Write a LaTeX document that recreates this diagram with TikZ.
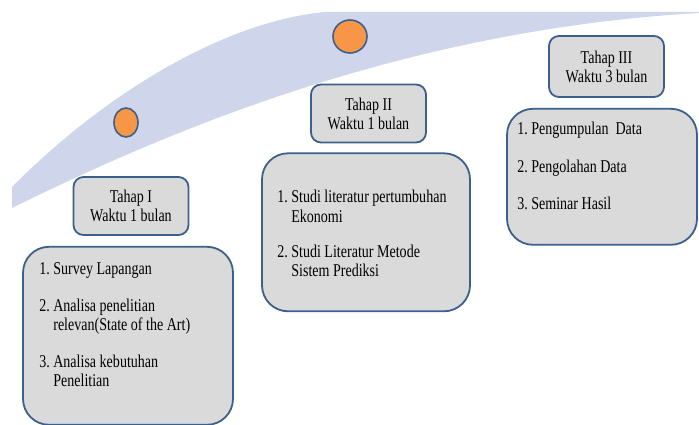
\documentclass[tikz,border=0pt]{standalone}
\usepackage{fontspec}
\setmainfont{Liberation Serif}[FakeStretch=0.78]
\usetikzlibrary{positioning}

\definecolor{bandblue}{RGB}{207,213,234}
\definecolor{boxedge}{RGB}{60,96,140}
\definecolor{boxfill}{RGB}{218,218,218}
\definecolor{dotorange}{RGB}{247,150,70}

\tikzset{
    headbox/.style={draw=boxedge, fill=boxfill, line width=1.8pt, rounded corners=10pt,
        minimum width=115pt, minimum height=58pt, inner sep=0pt, align=center,
        font=\fontsize{18}{19}\selectfont},
    listbox/.style={draw=boxedge, fill=boxfill, line width=1.8pt, rounded corners=26pt},
    listtext/.style={anchor=north west, inner sep=0pt, align=left,
        font=\fontsize{18}{19.5}\selectfont},
    dot/.style={draw=boxedge, fill=dotorange, line width=1.6pt}
}

\begin{document}
\begin{tikzpicture}[x=1pt, y=-1pt]
    \useasboundingbox (0,0) rectangle (699,425);
    % curved band
    \fill[bandblue] (12,187) .. controls (100,98) and (220,22) .. (325,12) -- (699,12)
        -- (699,13) .. controls (400,30) and (160,135) .. (12,208) -- cycle;
    \draw[dot] (126,122.5) ellipse [x radius=12pt, y radius=14.5pt];
    \draw[dot] (350,36.5) ellipse [x radius=17pt, y radius=16.5pt];

    % Tahap I
    \node[headbox] (head1) at (131,206) {Tahap I\\Waktu 1 bulan};
    \node[listbox, below=10pt of head1, xshift=-3pt, minimum width=210pt, minimum height=178pt] (list1) {};
    \node[listtext, below right=15pt and 17pt of list1.north west] (items1) {%
        \begin{tabular}{@{}l@{\hskip3.5pt}l@{}}
            1. & Survey Lapangan\\[17pt]
            2. & Analisa penelitian\\
               & relevan(State of the Art)\\[17pt]
            3. & Analisa kebutuhan\\
               & Penelitian
        \end{tabular}};

    % Tahap II
    \node[headbox] (head2) at (368.5,113.5) {Tahap II\\Waktu 1 bulan};
    \node[listbox, below=9pt of head2, xshift=-2.5pt, minimum width=208pt, minimum height=158pt] (list2) {};
    \node[listtext, below right=36.5pt and 16pt of list2.north west] (items2) {%
        \begin{tabular}{@{}l@{\hskip3.5pt}l@{}}
            1. & Studi literatur pertumbuhan\\
               & Ekonomi\\[15.5pt]
            2. & Studi Literatur Metode\\
               & Sistem Prediksi
        \end{tabular}};

    % Tahap III
    \node[headbox, minimum height=61pt] (head3) at (606.5,66.5) {Tahap III\\Waktu 3 bulan};
    \node[listbox, below=10pt of head3, xshift=-4.5pt, minimum width=190pt, minimum height=136pt] (list3) {};
    \node[listtext, below right=13pt and 11pt of list3.north west] (items3) {%
        \begin{tabular}{@{}l@{\hskip3.5pt}l@{}}
            1. & Pengumpulan~ Data\\[18pt]
            2. & Pengolahan Data\\[18pt]
            3. & Seminar Hasil
        \end{tabular}};
\end{tikzpicture}
\end{document}
